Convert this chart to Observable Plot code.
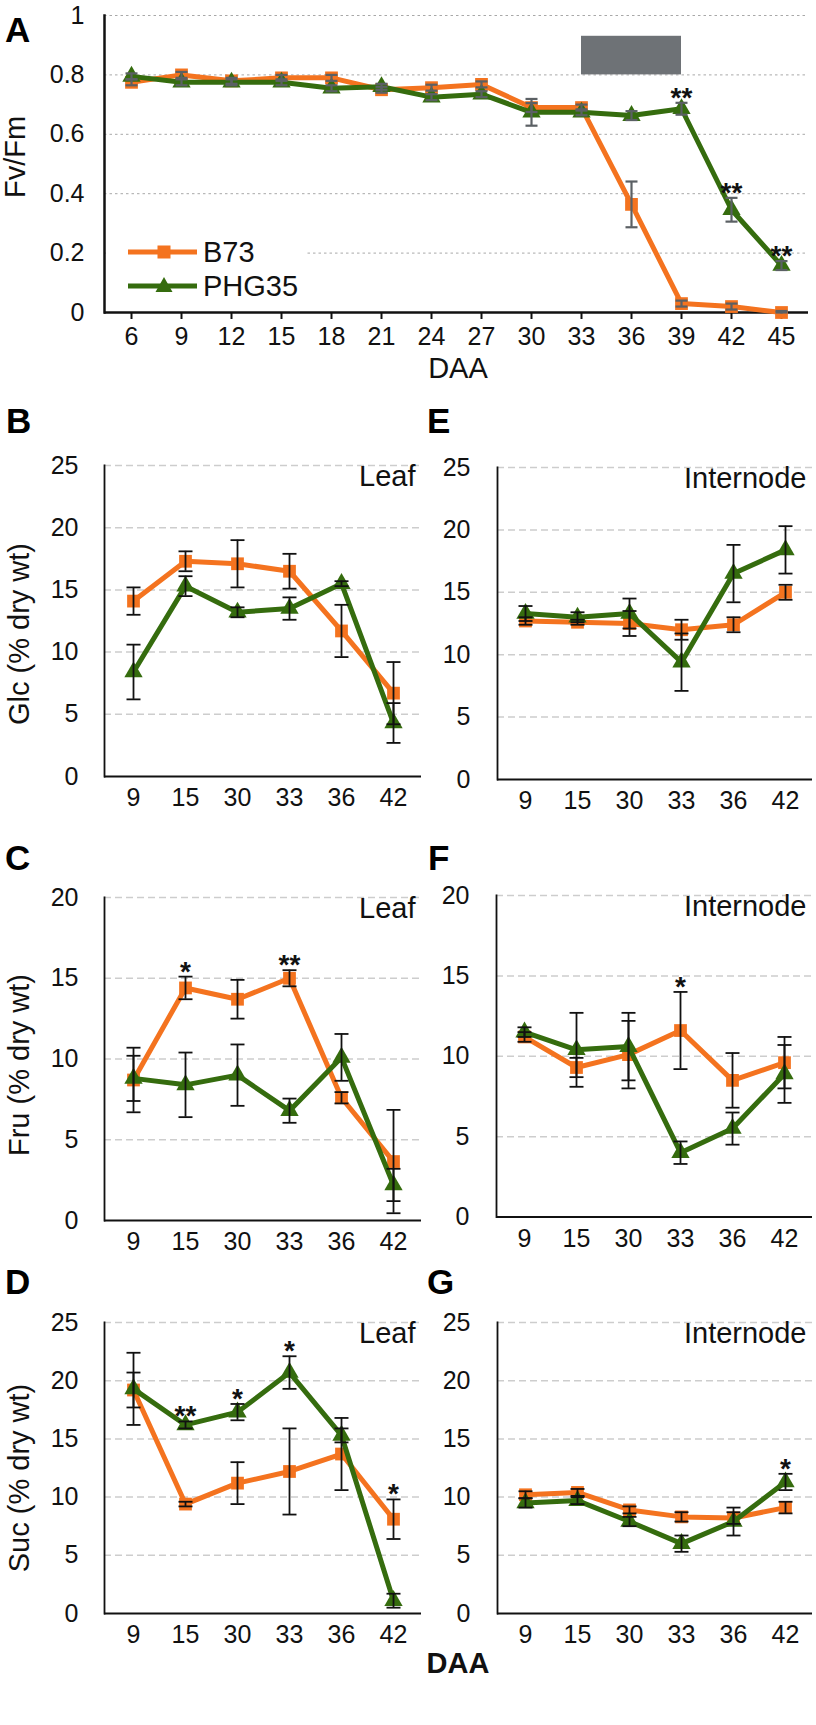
<!DOCTYPE html>
<html><head><meta charset="utf-8">
<script src="https://cdn.jsdelivr.net/npm/d3@7"></script>
<script src="https://cdn.jsdelivr.net/npm/@observablehq/plot@0.6"></script>
<style>
html,body{margin:0;padding:0;background:#fff;}
#fig{position:relative;width:816px;height:1725px;background:#fff;font-family:'Liberation Sans',Arial,Helvetica,sans-serif;overflow:hidden;}
#fig svg{position:absolute;overflow:visible;}
</style></head>
<body><div id="fig"></div>
<script>
// ---------- data ----------
const ORANGE = "#f4731f", GREEN = "#356c0e";
const seriesNames = ["B73", "PHG35"];

// Panel A: Fv/Fm
const daysA = [6, 9, 12, 15, 18, 21, 24, 27, 30, 33, 36, 39, 42, 45];
const fvB73 = [0.775, 0.80, 0.78, 0.79, 0.79, 0.75, 0.757, 0.768, 0.69, 0.69, 0.364, 0.03, 0.02, 0.0];
const fvB73Err = [0.01, 0.01, 0.01, 0.01, 0.01, 0.01, 0.01, 0.01, 0.015, 0.01, 0.077, 0.01, 0.01, 0.005];
const fvPHG35 = [0.795, 0.775, 0.775, 0.775, 0.755, 0.76, 0.725, 0.735, 0.674, 0.674, 0.663, 0.686, 0.346, 0.158];
const fvPHG35Err = [0.01, 0.01, 0.01, 0.01, 0.01, 0.01, 0.01, 0.01, 0.045, 0.01, 0.015, 0.02, 0.04, 0.015];
const fvTicks = [0, 0.2, 0.4, 0.6, 0.8, 1];
const fvStars = [[39, "PHG35", "**"], [42, "PHG35", "**"], [45, "PHG35", "**"]];
const shadeWindow = [{from: 33, to: 39, low: 0.8, high: 0.93}];

// Sugar panels
const sugarDays = [9, 15, 30, 33, 36, 42];
const ticks25 = [0, 5, 10, 15, 20, 25];
const ticks20 = [0, 5, 10, 15, 20];

const glcLeafB73 = [14.1, 17.3, 17.1, 16.5, 11.7, 6.7];
const glcLeafB73Err = [1.1, 0.8, 1.9, 1.4, 2.1, 2.5];
const glcLeafPHG35 = [8.4, 15.3, 13.2, 13.5, 15.5, 4.3];
const glcLeafPHG35Err = [2.2, 0.8, 0.4, 0.9, 0.2, 1.6];

const glcIntB73 = [12.7, 12.6, 12.5, 12.0, 12.4, 15.0];
const glcIntB73Err = [0.3, 0.2, 1.0, 0.8, 0.6, 0.6];
const glcIntPHG35 = [13.3, 13.0, 13.3, 9.4, 16.5, 18.4];
const glcIntPHG35Err = [0.6, 0.4, 1.2, 2.3, 2.3, 1.9];

const fruLeafB73 = [8.7, 14.4, 13.7, 15.0, 7.6, 3.65];
const fruLeafB73Err = [2.0, 0.7, 1.2, 0.5, 0.35, 3.2];
const fruLeafPHG35 = [8.8, 8.4, 9.0, 6.8, 10.1, 2.2];
const fruLeafPHG35Err = [1.4, 2.0, 1.9, 0.75, 1.45, 1.0];
const fruLeafStars = [[15, "B73", "*"], [33, "B73", "**"]];

const fruIntB73 = [11.2, 9.3, 10.1, 11.6, 8.5, 9.6];
const fruIntB73Err = [0.3, 0.6, 2.1, 2.4, 1.7, 1.6];
const fruIntPHG35 = [11.5, 10.4, 10.6, 4.0, 5.5, 8.9];
const fruIntPHG35Err = [0.3, 2.3, 2.1, 0.7, 1.0, 1.8];
const fruIntStars = [[33, "B73", "*"]];

const sucLeafB73 = [19.2, 9.4, 11.2, 12.2, 13.7, 8.1];
const sucLeafB73Err = [1.5, 0.2, 1.8, 3.7, 3.1, 1.7];
const sucLeafPHG35 = [19.3, 16.2, 17.3, 20.7, 15.3, 1.1];
const sucLeafPHG35Err = [3.1, 0.3, 0.7, 1.4, 0.6, 0.6];
const sucLeafStars = [[15, "PHG35", "**"], [30, "PHG35", "*"], [33, "PHG35", "*"], [42, "B73", "*"]];

const sucIntB73 = [10.2, 10.4, 8.9, 8.3, 8.2, 9.1];
const sucIntB73Err = [0.3, 0.3, 0.3, 0.4, 0.5, 0.5];
const sucIntPHG35 = [9.5, 9.7, 7.9, 6.0, 7.9, 11.3];
const sucIntPHG35Err = [0.4, 0.3, 0.4, 0.7, 1.2, 0.7];
const sucIntStars = [[42, "PHG35", "*"]];

// ---------- drawing ----------
const FONT = "'Liberation Sans', Arial, Helvetica, sans-serif";
const fig = document.getElementById("fig");

function rowsOf(days, vals, errs, series) {
  return days.map((d, i) => ({day: d, series, value: vals[i], err: errs[i]}));
}
function capSymbol(half) {
  return {draw(ctx) { ctx.moveTo(-half, 0); ctx.lineTo(half, 0); }};
}

function makePanel(cfg) {
  const big = !!cfg.big;
  const b = rowsOf(cfg.days, cfg.b73, cfg.b73Err, seriesNames[0]);
  const p = rowsOf(cfg.days, cfg.phg, cfg.phgErr, seriesNames[1]);
  const all = b.concat(p);
  const starRows = (cfg.stars || []).map(([day, s, t]) => {
    const r = all.find(r => r.day === day && r.series === s);
    return {day, top: r.value + r.err, t};
  });
  const errColor = big ? "#5b6064" : "#111";
  const errW = big ? 2.2 : 1.8;
  const cap = capSymbol(big ? 6 : 7);
  const bx = cfg.box;
  const svg = Plot.plot({
    width: bx.width, height: bx.height,
    marginLeft: bx.ml, marginRight: bx.mr, marginTop: bx.mt, marginBottom: bx.mb,
    x: {type: "point", domain: cfg.days, padding: 0.5},
    y: {domain: [0, cfg.ticks[cfg.ticks.length - 1]]},
    style: {fontFamily: FONT, background: "transparent", overflow: "visible", color: "#111"},
    marks: [
      Plot.gridY(cfg.ticks.filter(t => t > 0), big
        ? {stroke: "#a8a8a8", strokeOpacity: 1, strokeDasharray: "2.5,3", strokeWidth: 1}
        : {stroke: "#cdcdcd", strokeOpacity: 1, strokeDasharray: "7,4", strokeWidth: 1.5}),
      ...(cfg.extra || []),
      Plot.axisY({ticks: cfg.ticks, tickSize: 0, tickPadding: cfg.padY, tickFormat: d => String(d), fontSize: 25, label: null}),
      Plot.axisX({tickSize: big ? 7 : 0, tickPadding: big ? 8 : 12, strokeWidth: 2, fontSize: 25, label: null}),
      Plot.frame({anchor: "left", stroke: "#111", strokeWidth: big ? 2.5 : 1.8}),
      Plot.ruleY([0], {stroke: "#111", strokeWidth: big ? 2.5 : 2}),
      Plot.line(b, {x: "day", y: "value", stroke: ORANGE, strokeWidth: 5}),
      Plot.dot(b, {x: "day", y: "value", symbol: "square", r: 7.2, fill: ORANGE}),
      Plot.line(p, {x: "day", y: "value", stroke: GREEN, strokeWidth: 5}),
      Plot.dot(p, {x: "day", y: "value", symbol: "triangle", r: 6.8, fill: GREEN}),
      Plot.ruleX(all, {x: "day", y1: d => d.value - d.err, y2: d => d.value + d.err, stroke: errColor, strokeWidth: errW}),
      Plot.dot(all, {x: "day", y: d => d.value + d.err, symbol: cap, r: 1, fill: "none", stroke: errColor, strokeWidth: errW}),
      Plot.dot(all, {x: "day", y: d => Math.max(0, d.value - d.err), symbol: cap, r: 1, fill: "none", stroke: errColor, strokeWidth: errW}),
      Plot.text(starRows, {x: "day", y: "top", text: "t", dy: -5, fontWeight: "bold", fontSize: 28, fill: "#111"}),
      cfg.label ? Plot.text([cfg.label], {frameAnchor: "top-right", text: d => d, textAnchor: "end", lineAnchor: "top", dx: -6, dy: 0, fontSize: 29, fill: "#111"}) : null
    ]
  });
  svg.style.left = bx.left + "px";
  svg.style.top = bx.top + "px";
  fig.appendChild(svg);
}

// Panel A
makePanel({
  big: true, days: daysA, b73: fvB73, b73Err: fvB73Err, phg: fvPHG35, phgErr: fvPHG35Err,
  ticks: fvTicks, stars: fvStars, padY: 20,
  extra: [Plot.rect(shadeWindow, {x1: "from", x2: "to", y1: "low", y2: "high", fill: "#6e7276"})],
  box: {left: 0, top: 0, width: 816, height: 350, ml: 104, mr: 8, mt: 15, mb: 38}
});
// B (Glc leaf)
makePanel({days: sugarDays, b73: glcLeafB73, b73Err: glcLeafB73Err, phg: glcLeafPHG35, phgErr: glcLeafPHG35Err,
  ticks: ticks25, padY: 26, label: "Leaf",
  box: {left: 0, top: 440, width: 430, height: 380, ml: 104, mr: 9, mt: 25, mb: 44}});
// E (Glc internode)
makePanel({days: sugarDays, b73: glcIntB73, b73Err: glcIntB73Err, phg: glcIntPHG35, phgErr: glcIntPHG35Err,
  ticks: ticks25, padY: 27, label: "Internode",
  box: {left: 430, top: 440, width: 386, height: 380, ml: 67, mr: 4, mt: 27, mb: 41}});
// C (Fru leaf)
makePanel({days: sugarDays, b73: fruLeafB73, b73Err: fruLeafB73Err, phg: fruLeafPHG35, phgErr: fruLeafPHG35Err,
  ticks: ticks20, padY: 26, label: "Leaf", stars: fruLeafStars,
  box: {left: 0, top: 870, width: 430, height: 390, ml: 104, mr: 9, mt: 27, mb: 40}});
// F (Fru internode)
makePanel({days: sugarDays, b73: fruIntB73, b73Err: fruIntB73Err, phg: fruIntPHG35, phgErr: fruIntPHG35Err,
  ticks: ticks20, padY: 27, label: "Internode", stars: fruIntStars,
  box: {left: 430, top: 870, width: 386, height: 390, ml: 66, mr: 4, mt: 25, mb: 43.5}});
// D (Suc leaf)
makePanel({days: sugarDays, b73: sucLeafB73, b73Err: sucLeafB73Err, phg: sucLeafPHG35, phgErr: sucLeafPHG35Err,
  ticks: ticks25, padY: 26, label: "Leaf", stars: sucLeafStars,
  box: {left: 0, top: 1300, width: 430, height: 350, ml: 104, mr: 9, mt: 22, mb: 37}});
// G (Suc internode)
makePanel({days: sugarDays, b73: sucIntB73, b73Err: sucIntB73Err, phg: sucIntPHG35, phgErr: sucIntPHG35Err,
  ticks: ticks25, padY: 27, label: "Internode", stars: sucIntStars,
  box: {left: 430, top: 1300, width: 386, height: 350, ml: 67, mr: 4, mt: 22, mb: 37}});

// ---------- overlay: panel letters, axis titles, legend ----------
const NS = "http://www.w3.org/2000/svg";
const ov = document.createElementNS(NS, "svg");
ov.setAttribute("width", 816); ov.setAttribute("height", 1725);
ov.style.left = "0px"; ov.style.top = "0px";
ov.setAttribute("font-family", FONT);
ov.innerHTML = `
  <g font-size="35" font-weight="bold" fill="#000">
    <text x="5" y="42">A</text>
    <text x="6" y="433">B</text>
    <text x="427" y="433">E</text>
    <text x="5" y="870">C</text>
    <text x="428" y="870">F</text>
    <text x="5" y="1294">D</text>
    <text x="427" y="1294">G</text>
  </g>
  <g font-size="29" fill="#111" text-anchor="middle">
    <text transform="translate(25,157) rotate(-90)">Fv/Fm</text>
    <text transform="translate(29,634) rotate(-90)">Glc (% dry wt)</text>
    <text transform="translate(29,1065) rotate(-90)">Fru (% dry wt)</text>
    <text transform="translate(29,1478) rotate(-90)">Suc (% dry wt)</text>
    <text x="458" y="378">DAA</text>
    <text x="458" y="1673" font-weight="bold">DAA</text>
  </g>
  <g>
    <rect x="106" y="234" width="200" height="68" fill="#fff"/>
    <line x1="128" x2="197" y1="252" y2="252" stroke="${ORANGE}" stroke-width="5"/>
    <rect x="157.5" y="245.5" width="13" height="13" fill="${ORANGE}"/>
    <text x="203" y="262" font-size="29" fill="#111">${seriesNames[0]}</text>
    <line x1="128" x2="197" y1="286" y2="286" stroke="${GREEN}" stroke-width="5"/>
    <path d="M164,277 L172.5,292 L155.5,292 Z" fill="${GREEN}"/>
    <text x="203" y="296" font-size="29" fill="#111">${seriesNames[1]}</text>
  </g>`;
fig.appendChild(ov);
</script></body></html>
